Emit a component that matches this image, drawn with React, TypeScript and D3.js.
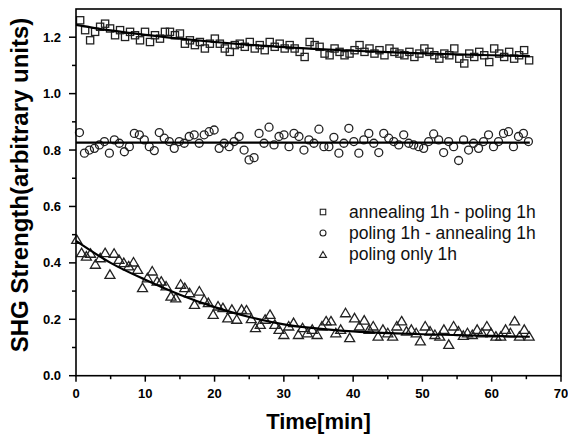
import React from "react";
import * as d3 from "d3";

// ---- data ----
const squareTimes = [0.6,1.32,2.04,2.76,3.48,4.2,4.92,5.64,6.36,7.08,7.8,8.52,9.24,9.96,10.68,11.4,12.12,12.84,13.56,14.28,15.0,15.72,16.44,17.16,17.88,18.6,19.32,20.04,20.76,21.48,22.2,22.92,23.64,24.36,25.08,25.8,26.52,27.24,27.96,28.68,29.4,30.12,30.84,31.56,32.28,33.0,33.72,34.44,35.16,35.88,36.6,37.32,38.04,38.76,39.48,40.2,40.92,41.64,42.36,43.08,43.8,44.52,45.24,45.96,46.68,47.4,48.12,48.84,49.56,50.28,51.0,51.72,52.44,53.16,53.88,54.6,55.32,56.04,56.76,57.48,58.2,58.92,59.64,60.36,61.08,61.8,62.52,63.24,63.96,64.68,65.4];

const annealPoling = [
  1.260,1.225,1.189,1.219,1.237,1.248,1.231,1.207,1.225,1.201,
  1.219,1.207,1.189,1.219,1.183,1.207,1.195,1.219,1.219,1.207,
  1.213,1.177,1.189,1.172,1.183,1.160,1.177,1.195,1.177,1.160,
  1.148,1.172,1.177,1.166,1.183,1.160,1.172,1.154,1.183,1.166,
  1.177,1.160,1.172,1.160,1.148,1.130,1.183,1.172,1.166,1.142,
  1.136,1.160,1.148,1.136,1.142,1.154,1.172,1.148,1.160,1.142,
  1.154,1.136,1.160,1.148,1.142,1.136,1.148,1.130,1.142,1.160,
  1.148,1.136,1.124,1.142,1.136,1.160,1.124,1.107,1.142,1.130,
  1.148,1.136,1.112,1.160,1.142,1.130,1.148,1.124,1.136,1.154,
  1.118];

const circleTimes = [0.5,1.22,1.94,2.66,3.38,4.1,4.82,5.54,6.26,6.98,7.7,8.42,9.14,9.86,10.58,11.3,12.02,12.74,13.46,14.18,14.9,15.62,16.34,17.06,17.78,18.5,19.22,19.94,20.66,21.38,22.1,22.82,23.54,24.26,24.98,25.7,26.42,27.14,27.86,28.58,29.3,30.02,30.74,31.46,32.18,32.9,33.62,34.34,35.06,35.78,36.5,37.22,37.94,38.66,39.38,40.1,40.82,41.54,42.26,42.98,43.7,44.42,45.14,45.86,46.58,47.3,48.02,48.74,49.46,50.18,50.9,51.62,52.34,53.06,53.78,54.5,55.22,55.94,56.66,57.38,58.1,58.82,59.54,60.26,60.98,61.7,62.42,63.14,63.86,64.58,65.3];

const polingAnneal = [
  0.862,0.789,0.800,0.806,0.818,0.830,0.789,0.836,0.824,0.794,
  0.812,0.859,0.854,0.836,0.812,0.798,0.862,0.842,0.830,0.806,
  0.830,0.824,0.848,0.854,0.824,0.854,0.865,0.871,0.806,0.824,
  0.812,0.830,0.848,0.800,0.765,0.773,0.859,0.824,0.881,0.818,
  0.848,0.854,0.812,0.859,0.848,0.800,0.836,0.824,0.874,0.812,
  0.812,0.845,0.789,0.824,0.877,0.830,0.789,0.836,0.859,0.824,
  0.791,0.859,0.842,0.830,0.818,0.854,0.824,0.818,0.812,0.806,
  0.830,0.857,0.836,0.791,0.830,0.812,0.763,0.836,0.800,0.824,
  0.806,0.830,0.854,0.812,0.830,0.859,0.865,0.812,0.848,0.859,
  0.830];

const triangleTimes = [
  0.1,0.8,1.5,2.1,2.8,3.5,4.2,4.9,5.5,6.2,
  6.9,7.6,8.3,8.9,9.6,10.3,11.0,11.7,12.3,13.0,
  13.7,14.4,15.1,15.7,16.4,17.1,17.8,18.5,19.1,19.8,
  20.5,21.2,21.9,22.5,23.2,23.9,24.6,25.3,25.9,26.6,
  27.3,28.0,28.7,29.3,30.0,30.7,31.4,32.1,32.7,33.4,
  34.1,34.8,35.5,36.1,36.8,37.5,38.2,38.9,39.5,40.2,
  40.9,41.6,42.3,42.9,43.6,44.3,45.0,45.7,46.3,47.0,
  47.7,48.4,49.1,49.7,50.4,51.1,51.8,52.5,53.1,53.8,
  54.5,55.2,55.9,56.5,57.2,57.9,58.6,59.3,59.9,60.6,
  61.3,62.0,62.7,63.3,64.0,64.7,65.4];

const polingOnly = [
  0.481,0.434,0.422,0.432,0.393,0.416,0.434,0.357,0.432,0.410,
  0.399,0.387,0.401,0.375,0.310,0.345,0.369,0.333,0.333,0.316,
  0.280,0.274,0.322,0.310,0.292,0.251,0.298,0.268,0.257,0.215,
  0.245,0.239,0.203,0.233,0.198,0.233,0.231,0.200,0.168,0.180,
  0.198,0.215,0.180,0.162,0.144,0.174,0.186,0.144,0.168,0.150,
  0.162,0.144,0.174,0.192,0.192,0.150,0.162,0.221,0.133,0.203,
  0.174,0.195,0.162,0.174,0.138,0.162,0.150,0.138,0.174,0.192,
  0.156,0.162,0.150,0.121,0.174,0.156,0.144,0.138,0.162,0.109,
  0.174,0.156,0.141,0.150,0.144,0.162,0.150,0.174,0.150,0.138,
  0.138,0.162,0.150,0.192,0.138,0.162,0.138];

// fitted curves
const fitTimes = [0,5,10,15,20,25,30,35,40,45,50,55,60,65.5];
const fitAnnealPoling = [1.244,1.224,1.208,1.195,1.183,1.173,1.165,1.158,1.152,1.147,1.143,1.139,1.136,1.133];
const fitPolingAnneal = [0.826,0.826,0.826,0.826,0.826,0.826,0.826,0.826,0.826,0.826,0.826,0.826,0.826,0.826];
const fitPolingOnly = [0.478,0.400,0.340,0.287,0.243,0.208,0.182,0.167,0.157,0.151,0.147,0.144,0.141,0.138];

const xTicks = [0,10,20,30,40,50,60,70];
const xMinor = [5,15,25,35,45,55,65];
const yTicks = [0.0,0.2,0.4,0.6,0.8,1.0,1.2];
const yMinor = [0.1,0.3,0.5,0.7,0.9,1.1];
const legendLabels = ["annealing 1h - poling 1h","poling 1h - annealing 1h","poling only 1h"];

const W = 568, H = 436;
const M = { left: 76, right: 561, top: 9, bottom: 375.7 };
const FONT = "'Liberation Sans', Arial, Helvetica, sans-serif";
const INK = "#222";

function Square({ cx, cy, s, sw = 1.3 }: { cx: number; cy: number; s: number; sw?: number }) {
  return <rect x={cx - s / 2} y={cy - s / 2} width={s} height={s} fill="none" stroke={INK} strokeWidth={sw} />;
}
function Circle({ cx, cy, r, sw = 1.3 }: { cx: number; cy: number; r: number; sw?: number }) {
  return <circle cx={cx} cy={cy} r={r} fill="none" stroke={INK} strokeWidth={sw} />;
}
function Tri({ cx, cy, w, sw = 1.3 }: { cx: number; cy: number; w: number; sw?: number }) {
  const h = w * 0.85;
  const p = `M${cx},${cy - h * 0.6}L${cx + w / 2},${cy + h * 0.4}L${cx - w / 2},${cy + h * 0.4}Z`;
  return <path d={p} fill="none" stroke={INK} strokeWidth={sw} strokeLinejoin="miter" />;
}

export default function App() {
  const x = d3.scaleLinear().domain([0, 70]).range([M.left, M.right]);
  const y = d3.scaleLinear().domain([0, 1.3]).range([M.bottom, M.top]);
  const line = d3
    .line<number>()
    .x((_, i) => x(fitTimes[i]))
    .y((d) => y(d))
    .curve(d3.curveMonotoneX);

  return (
    <div style={{ position: "fixed", left: 0, top: 0, width: W, height: H, background: "#fff" }}>
      <svg width={W} height={H} style={{ display: "block" }}>
        <rect x={0} y={0} width={W} height={H} fill="#fff" />
        {/* markers */}
        <g>
          {annealPoling.map((v, i) => (
            <Square key={"s" + i} cx={x(squareTimes[i])} cy={y(v)} s={7.2} />
          ))}
          {polingAnneal.map((v, i) => (
            <Circle key={"c" + i} cx={x(circleTimes[i])} cy={y(v)} r={4} />
          ))}
          {polingOnly.map((v, i) => (
            <Tri key={"t" + i} cx={x(triangleTimes[i])} cy={y(v)} w={10} />
          ))}
        </g>
        {/* fits */}
        <g fill="none" stroke="#000" strokeWidth={2.2}>
          <path d={line(fitAnnealPoling) || ""} />
          <path d={line(fitPolingAnneal) || ""} />
          <path d={line(fitPolingOnly) || ""} />
        </g>
        {/* frame */}
        <rect x={M.left} y={M.top} width={M.right - M.left} height={M.bottom - M.top} fill="none" stroke="#000" strokeWidth={1.6} />
        {/* ticks */}
        <g stroke="#000" strokeWidth={1.5}>
          {xTicks.map((t) => (
            <line key={"xt" + t} x1={x(t)} x2={x(t)} y1={M.bottom} y2={M.bottom + 6} />
          ))}
          {xMinor.map((t) => (
            <line key={"xm" + t} x1={x(t)} x2={x(t)} y1={M.bottom} y2={M.bottom + 3.5} />
          ))}
          {yTicks.map((t) => (
            <line key={"yt" + t} x1={M.left - 7} x2={M.left} y1={y(t)} y2={y(t)} />
          ))}
          {yMinor.map((t) => (
            <line key={"ym" + t} x1={M.left - 4} x2={M.left} y1={y(t)} y2={y(t)} />
          ))}
        </g>
        <g fontFamily={FONT} fontWeight="bold" fontSize={13} fill="#000">
          {xTicks.map((t) => (
            <text key={"xl" + t} x={x(t)} y={398} textAnchor="middle">{t}</text>
          ))}
          {yTicks.map((t) => (
            <text key={"yl" + t} x={61} y={y(t) + 4.6} textAnchor="end">{t.toFixed(1)}</text>
          ))}
        </g>
        {/* axis titles */}
        <text x={318.5} y={429} textAnchor="middle" fontFamily={FONT} fontWeight="bold" fontSize={22} fill="#000">Time[min]</text>
        <text transform={`translate(28,185) rotate(-90)`} textAnchor="middle" fontFamily={FONT} fontWeight="bold" fontSize={24} fill="#000">SHG Strength(arbitrary units)</text>
        {/* legend */}
        <g fontFamily={FONT} fontSize={17.5} fill="#111">
          {legendLabels.map((lab, i) => {
            const cy = 212 + i * 21;
            const sym =
              i === 0 ? <Square cx={323} cy={cy} s={5.5} sw={1.1} /> : i === 1 ? <Circle cx={323} cy={cy} r={3} sw={1.1} /> : <Tri cx={323} cy={cy + 1} w={7} sw={1.1} />;
            return (
              <g key={"lg" + i}>
                {sym}
                <text x={349} y={cy + 6}>{lab}</text>
              </g>
            );
          })}
        </g>
      </svg>
    </div>
  );
}
